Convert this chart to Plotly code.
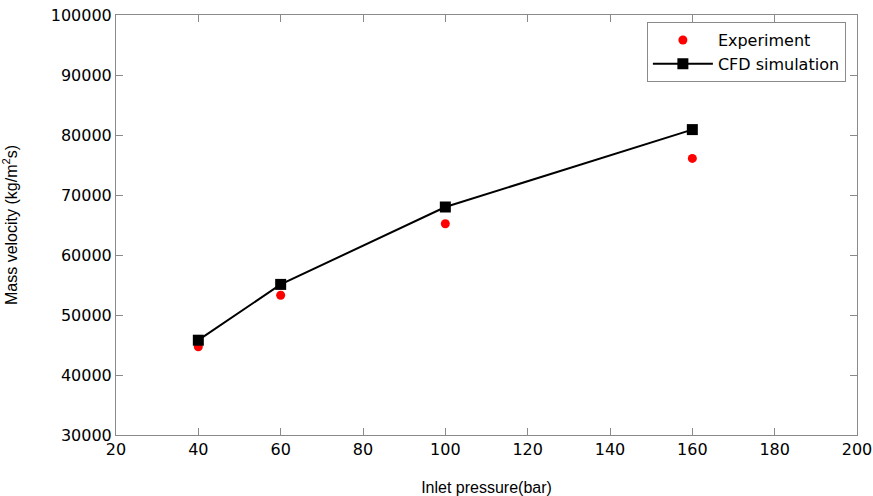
import plotly.graph_objects as go

pressure = [40, 60, 100, 160]
experiment = [44700, 53300, 65200, 76100]
cfd = [45800, 55100, 68000, 80900]

x_ticks = [20, 40, 60, 80, 100, 120, 140, 160, 180, 200]
y_ticks = [30000, 40000, 50000, 60000, 70000, 80000, 90000, 100000]

fig = go.Figure()
fig.add_trace(go.Scatter(
    x=pressure, y=experiment, mode="markers", name="Experiment",
    marker=dict(color="#ff0000", size=9, symbol="circle", line=dict(width=0)),
))
fig.add_trace(go.Scatter(
    x=pressure, y=cfd, mode="lines+markers", name="CFD simulation",
    line=dict(color="black", width=2),
    marker=dict(color="black", size=11, symbol="square"),
))

axis_common = dict(
    showgrid=False, zeroline=False, showline=True, linecolor="#8a8a8a", linewidth=1,
    mirror="allticks", ticks="inside", ticklen=7, tickcolor="#8a8a8a",
    tickfont=dict(family="DejaVu Sans", size=16, color="black"),
    automargin=False,
)
fig.update_xaxes(
    range=[20, 200], tickvals=x_ticks, ticktext=[str(v) for v in x_ticks],
    title=dict(text="Inlet pressure(bar)", font=dict(family="Liberation Sans", size=16, color="black"), standoff=30),
    **axis_common,
)
fig.update_yaxes(
    range=[30000, 100000], tickvals=y_ticks, ticktext=[str(v) for v in y_ticks],
    title=dict(text="Mass velocity (kg/m<sup>2</sup>s)", font=dict(family="Liberation Sans", size=16, color="black"), standoff=29),
    **axis_common,
)
fig.update_layout(
    width=873, height=496,
    margin=dict(l=116, r=16, t=15, b=61),
    plot_bgcolor="white", paper_bgcolor="white",
    legend=dict(
        x=0.985, y=0.983, xanchor="right", yanchor="top",
        bordercolor="#8a8a8a", borderwidth=1, bgcolor="white",
        font=dict(family="DejaVu Sans", size=16, color="black"),
        tracegroupgap=0, itemwidth=60,
    ),
)
fig.write_html("out.html")
